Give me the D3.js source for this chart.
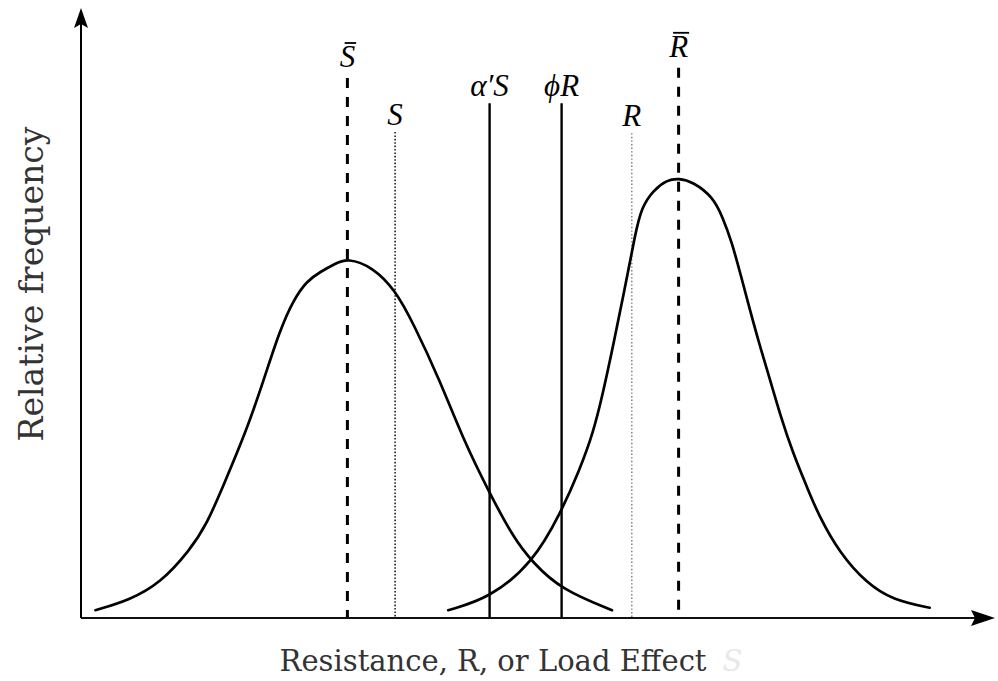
<!DOCTYPE html>
<html>
<head>
<meta charset="utf-8">
<script src="https://cdn.jsdelivr.net/npm/d3@7"></script>
<style>
  html, body { margin: 0; padding: 0; background: #fff; }
  svg { display: block; }
</style>
</head>
<body>
<svg id="chart" width="998" height="681"></svg>
<script>
// Load effect S distribution (left bell curve)
const loadX = [1.6, 5.4, 8.8, 12.1, 14.0, 15.8, 18.4, 20.2, 22.1, 23.6, 25.1, 26.6, 28.2, 29.6, 32.4, 34.9, 36.9, 39.9, 42.4, 45.4, 48.0, 50.2, 53.4, 59.0];
const loadY = [1.3, 3.0, 5.8, 11.3, 15.7, 22.0, 31.3, 39.2, 48.0, 53.0, 56.2, 57.7, 59.0, 60.0, 58.5, 54.7, 49.2, 39.5, 30.0, 20.8, 13.5, 9.2, 4.7, 1.3];

// Resistance R distribution (right bell curve)
const resX = [40.8, 45.4, 50.2, 53.3, 55.4, 56.9, 58.0, 59.1, 60.4, 61.6, 62.3, 63.6, 65.1, 66.4, 68.0, 70.2, 71.3, 72.3, 73.3, 74.3, 75.4, 76.6, 77.7, 79.1, 80.7, 81.9, 84.3, 87.3, 90.2, 94.3];
const resY = [1.3, 3.3, 9.2, 17.5, 24.7, 30.8, 37.5, 45.2, 54.7, 64.2, 68.5, 71.3, 73.0, 73.3, 72.7, 70.2, 66.8, 62.7, 57.2, 51.5, 45.5, 39.5, 33.8, 27.5, 21.7, 17.3, 10.8, 5.8, 3.0, 1.7];

// Reference values marked with vertical lines
const markerNames = ["S", "S", "\u03B1\u2032S", "\u03D5R", "R", "R"];
const markerBar   = [true, false, false, false, false, true];
const markerX     = [29.6, 34.9, 45.4, 53.4, 61.2, 66.4];
const markerTop   = [90.0, 81.0, 85.8, 85.8, 80.8, 91.7];
const markerStyle = ["dashed", "dotted", "solid", "solid", "dotted-light", "dashed"];

const xTitle = "Resistance, R, or Load Effect";
const xTitleTail = "S";
const yTitle = "Relative frequency";

const svg = d3.select("#chart");
const x = d3.scaleLinear().domain([0, 100]).range([81, 981]);
const y = d3.scaleLinear().domain([0, 100]).range([618, 18]);

const styles = {
  "dashed":       { width: 3,   dash: "10,9", color: "#000" },
  "dotted":       { width: 1.6, dash: "1.6,1.8", color: "#222" },
  "dotted-light": { width: 1.4, dash: "1.4,2.2", color: "#777" },
  "solid":        { width: 2.4, dash: null, color: "#000" }
};

// vertical marker lines
const markers = markerX.map((v, i) => ({ name: markerNames[i], bar: markerBar[i], x: v, top: markerTop[i], style: markerStyle[i] }));
svg.append("g").selectAll("line").data(markers).join("line")
  .attr("x1", d => x(d.x)).attr("x2", d => x(d.x))
  .attr("y1", d => y(d.top)).attr("y2", y(0))
  .attr("stroke", d => styles[d.style].color)
  .attr("stroke-width", d => styles[d.style].width)
  .attr("stroke-dasharray", d => styles[d.style].dash);

// marker labels
const labels = svg.append("g").selectAll("text").data(markers).join("text")
  .attr("x", d => x(d.x))
  .attr("y", d => y(d.top) - (d.bar ? 11 : 7))
  .attr("text-anchor", "middle")
  .attr("font-family", "'Liberation Serif', 'DejaVu Serif', serif")
  .attr("font-style", "italic")
  .attr("font-size", 31)
  .attr("fill", "#000")
  .text(d => d.name);

// overbars for the mean values
labels.filter(d => d.bar).each(function () {
  const b = this.getBBox();
  svg.append("line")
    .attr("x1", b.x + 5).attr("x2", b.x + b.width + 1)
    .attr("y1", b.y + 4).attr("y2", b.y + 4)
    .attr("stroke", "#000").attr("stroke-width", 1.8);
});

// distribution curves
const line = d3.line().x(d => x(d[0])).y(d => y(d[1])).curve(d3.curveBasis);
svg.append("path").datum(d3.zip(loadX, loadY))
  .attr("d", line).attr("fill", "none").attr("stroke", "#000")
  .attr("stroke-width", 2.7).attr("stroke-linecap", "round");
svg.append("path").datum(d3.zip(resX, resY))
  .attr("d", line).attr("fill", "none").attr("stroke", "#000")
  .attr("stroke-width", 2.7).attr("stroke-linecap", "round");

// axes with arrowheads
const x0 = x(0), y0 = y(0);
svg.append("line").attr("x1", x0).attr("x2", 975).attr("y1", y0).attr("y2", y0)
  .attr("stroke", "#111").attr("stroke-width", 1.8);
svg.append("line").attr("x1", x0).attr("x2", x0).attr("y1", y0).attr("y2", 22)
  .attr("stroke", "#000").attr("stroke-width", 2);
svg.append("path").attr("d", `M995,${y0} L971,${y0 - 8} L975,${y0} L971,${y0 + 8} Z`).attr("fill", "#000");
svg.append("path").attr("d", `M${x0},8 L${x0 - 7},28 L${x0},24 L${x0 + 7},28 Z`).attr("fill", "#000");

// axis titles
const xt = svg.append("text")
  .attr("x", 511).attr("y", 671)
  .attr("text-anchor", "middle")
  .attr("font-family", "'DejaVu Serif', serif")
  .attr("font-size", 29)
  .attr("fill", "#333");
xt.append("tspan").text(xTitle);
xt.append("tspan").attr("dx", 16).attr("fill", "#e8e8e8").attr("font-style", "italic").text(xTitleTail);

svg.append("text")
  .attr("transform", "translate(43,284) rotate(-90)")
  .attr("text-anchor", "middle")
  .attr("font-family", "'DejaVu Serif', serif")
  .attr("font-size", 33)
  .attr("fill", "#333")
  .text(yTitle);
</script>
</body>
</html>
